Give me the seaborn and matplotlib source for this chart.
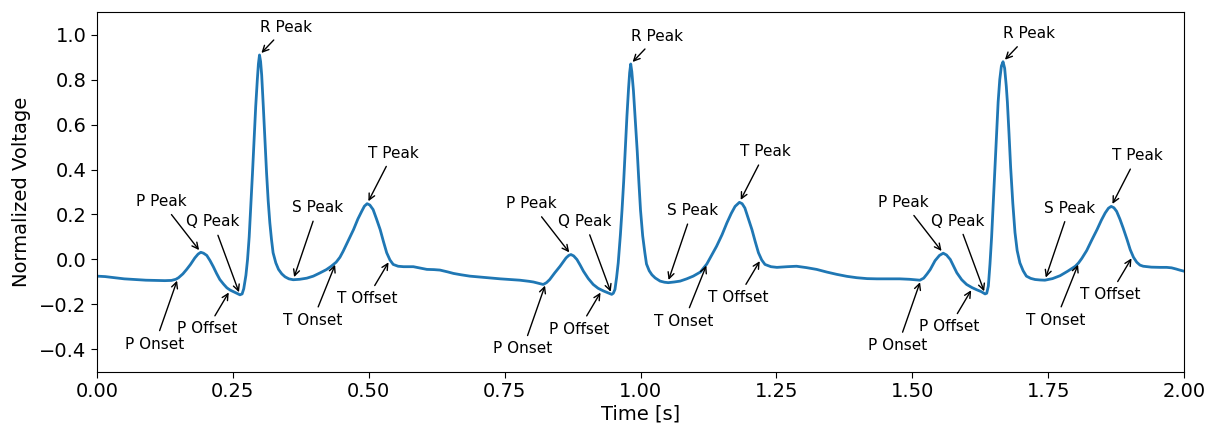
import numpy as np
import pandas as pd
import matplotlib
matplotlib.use("Agg")
import matplotlib.pyplot as plt
import seaborn as sns

# ECG trace: time in seconds, normalized voltage
time_s = [
    0.000, 0.015, 0.033, 0.050, 0.070, 0.090, 0.107, 0.125, 0.137, 0.145,
    0.150, 0.158, 0.165, 0.172, 0.180, 0.186, 0.191, 0.196, 0.202, 0.208,
    0.214, 0.220, 0.226, 0.233, 0.239, 0.245, 0.251, 0.257, 0.263, 0.267,
    0.270, 0.274, 0.277, 0.280, 0.283, 0.286, 0.289, 0.292, 0.295, 0.297,
    0.299, 0.301, 0.303, 0.306, 0.309, 0.312, 0.315, 0.318, 0.321, 0.324,
    0.329, 0.334, 0.340, 0.346, 0.353, 0.361, 0.373, 0.386, 0.398, 0.410,
    0.422, 0.431, 0.440, 0.447, 0.453, 0.462, 0.472, 0.480, 0.487, 0.492,
    0.497, 0.502, 0.508, 0.514, 0.521, 0.527, 0.533, 0.539, 0.545, 0.554,
    0.564, 0.582, 0.595, 0.607, 0.620, 0.631, 0.645, 0.656, 0.670, 0.686,
    0.700, 0.717, 0.742, 0.760, 0.778, 0.795, 0.803, 0.813, 0.821, 0.827,
    0.833, 0.842, 0.852, 0.863, 0.868, 0.872, 0.877, 0.883, 0.889, 0.895,
    0.904, 0.913, 0.922, 0.932, 0.940, 0.947, 0.950, 0.953, 0.956, 0.959,
    0.963, 0.966, 0.969, 0.972, 0.975, 0.978, 0.980, 0.982, 0.984, 0.987,
    0.990, 0.994, 0.997, 1.000, 1.004, 1.008, 1.011, 1.016, 1.021, 1.027,
    1.036, 1.044, 1.051, 1.062, 1.073, 1.085, 1.097, 1.110, 1.122, 1.131,
    1.140, 1.150, 1.159, 1.167, 1.174, 1.182, 1.187, 1.192, 1.198, 1.205,
    1.211, 1.217, 1.223, 1.229, 1.240, 1.251, 1.270, 1.287, 1.305, 1.324,
    1.343, 1.361, 1.380, 1.398, 1.417, 1.435, 1.456, 1.477, 1.495, 1.505,
    1.514, 1.521, 1.527, 1.533, 1.542, 1.550, 1.557, 1.563, 1.570, 1.576,
    1.582, 1.591, 1.600, 1.610, 1.619, 1.627, 1.634, 1.637, 1.640, 1.643,
    1.646, 1.649, 1.652, 1.655, 1.658, 1.661, 1.664, 1.667, 1.670, 1.673,
    1.675, 1.678, 1.681, 1.685, 1.689, 1.693, 1.698, 1.704, 1.710, 1.718,
    1.726, 1.735, 1.744, 1.758, 1.772, 1.786, 1.800, 1.806, 1.812, 1.821,
    1.830, 1.840, 1.848, 1.855, 1.861, 1.866, 1.871, 1.876, 1.882, 1.888,
    1.895, 1.901, 1.907, 1.913, 1.919, 1.925, 1.940, 1.956, 1.968, 1.977,
    1.985, 1.992, 2.000,
]
voltage = [
    -0.074, -0.076, -0.081, -0.086, -0.089, -0.092, -0.093, -0.094, -0.093, -0.088,
    -0.081, -0.064, -0.044, -0.022, 0.007, 0.024, 0.032, 0.028, 0.018, -0.005,
    -0.032, -0.062, -0.089, -0.110, -0.126, -0.136, -0.143, -0.150, -0.157, -0.153,
    -0.130, -0.070, 0.000, 0.100, 0.240, 0.380, 0.530, 0.680, 0.800, 0.870,
    0.909, 0.880, 0.820, 0.680, 0.530, 0.384, 0.260, 0.163, 0.090, 0.030,
    -0.015, -0.044, -0.064, -0.077, -0.086, -0.090, -0.088, -0.083, -0.074, -0.060,
    -0.045, -0.030, -0.012, 0.010, 0.037, 0.082, 0.133, 0.180, 0.214, 0.237,
    0.248, 0.242, 0.222, 0.182, 0.133, 0.080, 0.030, -0.002, -0.022, -0.030,
    -0.032, -0.032, -0.038, -0.044, -0.045, -0.047, -0.055, -0.062, -0.068, -0.074,
    -0.077, -0.081, -0.086, -0.089, -0.092, -0.097, -0.100, -0.106, -0.111, -0.103,
    -0.089, -0.060, -0.030, 0.007, 0.018, 0.022, 0.016, 0.000, -0.025, -0.052,
    -0.085, -0.111, -0.128, -0.140, -0.148, -0.155, -0.150, -0.133, -0.080, -0.015,
    0.110, 0.220, 0.345, 0.490, 0.636, 0.760, 0.830, 0.869, 0.835, 0.750,
    0.636, 0.480, 0.345, 0.220, 0.105, 0.030, -0.020, -0.050, -0.068, -0.082,
    -0.096, -0.101, -0.103, -0.100, -0.096, -0.086, -0.074, -0.056, -0.020, 0.020,
    0.059, 0.110, 0.163, 0.205, 0.236, 0.254, 0.248, 0.229, 0.185, 0.133,
    0.080, 0.030, -0.002, -0.022, -0.032, -0.035, -0.032, -0.030, -0.036, -0.044,
    -0.056, -0.066, -0.075, -0.081, -0.085, -0.086, -0.086, -0.086, -0.088, -0.090,
    -0.092, -0.083, -0.065, -0.045, -0.005, 0.018, 0.028, 0.020, 0.000, -0.030,
    -0.059, -0.090, -0.111, -0.125, -0.135, -0.143, -0.153, -0.150, -0.118, -0.020,
    0.100, 0.250, 0.400, 0.560, 0.700, 0.800, 0.860, 0.879, 0.850, 0.770,
    0.700, 0.560, 0.410, 0.250, 0.120, 0.040, -0.015, -0.050, -0.074, -0.084,
    -0.089, -0.091, -0.092, -0.085, -0.072, -0.052, -0.030, -0.015, 0.005, 0.040,
    0.085, 0.133, 0.175, 0.207, 0.228, 0.236, 0.230, 0.214, 0.180, 0.140,
    0.090, 0.044, 0.010, -0.012, -0.025, -0.030, -0.034, -0.035, -0.035, -0.037,
    -0.042, -0.047, -0.052,
]

# Delineated fiducial points (seconds) for each heartbeat
wave_labels = ["P Onset", "P Peak", "P Offset", "Q Peak", "R Peak",
               "S Peak", "T Onset", "T Peak", "T Offset"]
beat1_times = [0.149, 0.191, 0.245, 0.263, 0.299, 0.361, 0.440, 0.497, 0.539]
beat2_times = [0.826, 0.872, 0.929, 0.947, 0.982, 1.050, 1.123, 1.182, 1.222]
beat3_times = [1.516, 1.557, 1.611, 1.634, 1.667, 1.744, 1.807, 1.866, 1.906]

# Where each label sits relative to its point, in points
label_offsets = {
    "P Onset": (-16.6, -47.5),
    "P Peak": (-28.4, 36.5),
    "P Offset": (-16.6, -28.0),
    "Q Peak": (-19.4, 52.5),
    "R Peak": (19.0, 20.0),
    "S Peak": (17.6, 51.8),
    "T Onset": (-16.8, -41.8),
    "T Peak": (18.7, 36.4),
    "T Offset": (-16.6, -27.9),
}

sns.set_style("ticks", {"axes.edgecolor": "black", "xtick.color": "black",
                        "ytick.color": "black", "text.color": "black",
                        "axes.labelcolor": "black"})
plt.rcParams["font.family"] = ["DejaVu Sans"]

fig = plt.figure(figsize=(12.14, 4.23), dpi=100)
ax = fig.add_axes([0.0799, 0.1206, 0.8954, 0.8510])

ecg = pd.DataFrame({"Time [s]": time_s, "Normalized Voltage": voltage})
sns.lineplot(data=ecg, x="Time [s]", y="Normalized Voltage", ax=ax,
             color="#1f77b4", linewidth=2.0, estimator=None, sort=False)

t_arr = np.asarray(time_s)
v_arr = np.asarray(voltage)
for beat in (beat1_times, beat2_times, beat3_times):
    for label, t in zip(wave_labels, beat):
        v = float(np.interp(t, t_arr, v_arr))
        ax.annotate(label, xy=(t, v), xytext=label_offsets[label],
                    textcoords="offset points", ha="center", va="center",
                    fontsize=11, color="black",
                    arrowprops=dict(arrowstyle="->", color="black", lw=1.0))

ax.set_xlim(0, 2)
ax.set_ylim(-0.5, 1.1)
ax.set_xticks(np.arange(0, 2.01, 0.25))
ax.set_xticklabels([f"{x:.2f}" for x in np.arange(0, 2.01, 0.25)])
ax.set_yticks(np.arange(-0.4, 1.01, 0.2))
ax.set_yticklabels([f"{y:.1f}".replace("-", "\u2212") for y in np.arange(-0.4, 1.01, 0.2)])
ax.tick_params(axis="both", labelsize=14, length=4, width=0.8)
ax.set_xlabel("Time [s]", fontsize=14, labelpad=2)
ax.set_ylabel("Normalized Voltage", fontsize=14, labelpad=6)
for side in ("top", "right", "left", "bottom"):
    ax.spines[side].set_visible(True)
    ax.spines[side].set_color("black")
    ax.spines[side].set_linewidth(0.8)

fig.savefig("out.png", dpi=100)
